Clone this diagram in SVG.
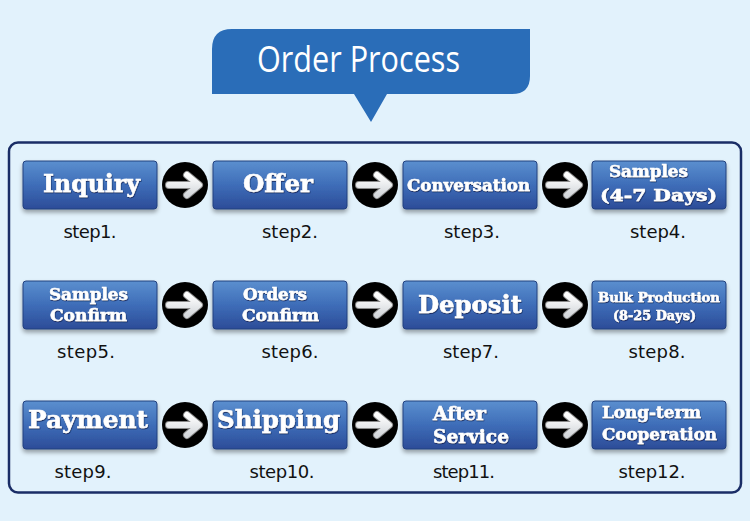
<svg xmlns="http://www.w3.org/2000/svg" width="750" height="521" viewBox="0 0 750 521">
<defs>
<linearGradient id="btn" x1="0" y1="0" x2="0" y2="1">
<stop offset="0" stop-color="#5b8fcf"/>
<stop offset="0.5" stop-color="#3e6db8"/>
<stop offset="1" stop-color="#2c4c98"/>
</linearGradient>
<linearGradient id="arr" x1="0" y1="0" x2="0" y2="1">
<stop offset="0" stop-color="#ffffff"/>
<stop offset="1" stop-color="#d4d8dc"/>
</linearGradient>
<filter id="sh" x="-10%" y="-20%" width="120%" height="150%">
<feDropShadow dx="0" dy="3" stdDeviation="2" flood-color="#000" flood-opacity="0.35"/>
</filter>
<filter id="ts" x="-5%" y="-20%" width="110%" height="150%">
<feDropShadow dx="0.5" dy="1" stdDeviation="0.6" flood-color="#0c1f4a" flood-opacity="0.8"/>
</filter>
<g id="arrow">
<circle cx="0" cy="0" r="23" fill="#000"/>
<path d="M-16,0 H13 M2,-10 L14,0 L2,10" fill="none" stroke="#888" stroke-width="8" stroke-linecap="round" stroke-linejoin="round"/>
<path d="M-16,0 H13 M2,-10 L14,0 L2,10" fill="none" stroke="url(#arr)" stroke-width="6" stroke-linecap="round" stroke-linejoin="round"/>
</g>
</defs>
<style>
.box{fill:url(#btn);stroke:#23407e;stroke-width:1;filter:url(#sh)}
.bt{font-family:"DejaVu Serif",serif;font-weight:bold;fill:#fff;stroke:#fff;stroke-width:0.5;text-anchor:middle;filter:url(#ts)}
.st{font-family:"Comic Sans MS","DejaVu Sans",sans-serif;font-size:18px;fill:#111;text-anchor:middle}
</style>
<rect width="750" height="521" fill="#e2f2fc"/>
<g id="title">
<path d="M232,29 H530 V76 Q530,94 512,94 H387 L371,122 L354,94 H212 V49 Q212,29 232,29 Z" fill="#2a6db8"/>
<text x="358.5" y="72" font-family="Open Sans,sans-serif" font-size="36" fill="#fff" text-anchor="middle" textLength="203" lengthAdjust="spacingAndGlyphs">Order Process</text>
</g>
<rect id="frame" x="9" y="142.5" width="732" height="350" rx="9" fill="none" stroke="#1a2d66" stroke-width="2.5"/>
<g id="connectors">
<use href="#arrow" x="185" y="185"/>
<use href="#arrow" x="375" y="185"/>
<use href="#arrow" x="565" y="185"/>
<use href="#arrow" x="185" y="305"/>
<use href="#arrow" x="375" y="305"/>
<use href="#arrow" x="565" y="305"/>
<use href="#arrow" x="185" y="425"/>
<use href="#arrow" x="375" y="425"/>
<use href="#arrow" x="565" y="425"/>
</g>
<g id="step1"><rect class="box" x="23" y="161" width="134" height="48" rx="3"/><text class="bt" x="91.5" y="192" font-size="24" textLength="97" lengthAdjust="spacingAndGlyphs">Inquiry</text><text class="st" x="90" y="238" textLength="53">step1.</text></g>
<g id="step2"><rect class="box" x="213" y="161" width="134" height="48" rx="3"/><text class="bt" x="278" y="192" font-size="24" textLength="70" lengthAdjust="spacingAndGlyphs">Offer</text><text class="st" x="290" y="238" textLength="56">step2.</text></g>
<g id="step3"><rect class="box" x="403" y="161" width="134" height="48" rx="3"/><text class="bt" x="468.5" y="191" font-size="16" textLength="123" lengthAdjust="spacingAndGlyphs">Conversation</text><text class="st" x="472" y="238" textLength="56">step3.</text></g>
<g id="step4"><rect class="box" x="592" y="161" width="134" height="48" rx="3"/><text class="bt" x="648.5" y="177" font-size="16" textLength="79" lengthAdjust="spacingAndGlyphs">Samples</text><text class="bt" x="658.5" y="201" font-size="16" textLength="117" lengthAdjust="spacingAndGlyphs">(4-7 Days)</text><text class="st" x="658" y="238" textLength="56">step4.</text></g>
<g id="step5"><rect class="box" x="23" y="281" width="134" height="48" rx="3"/><text class="bt" x="88.5" y="300" font-size="16" textLength="79" lengthAdjust="spacingAndGlyphs">Samples</text><text class="bt" x="88.5" y="321" font-size="16" textLength="77" lengthAdjust="spacingAndGlyphs">Confirm</text><text class="st" x="86" y="358" textLength="58">step5.</text></g>
<g id="step6"><rect class="box" x="213" y="281" width="134" height="48" rx="3"/><text class="bt" x="275" y="300" font-size="16" textLength="64" lengthAdjust="spacingAndGlyphs">Orders</text><text class="bt" x="280.5" y="321" font-size="16" textLength="77" lengthAdjust="spacingAndGlyphs">Confirm</text><text class="st" x="290" y="358" textLength="57">step6.</text></g>
<g id="step7"><rect class="box" x="403" y="281" width="134" height="48" rx="3"/><text class="bt" x="470" y="313" font-size="24" textLength="104" lengthAdjust="spacingAndGlyphs">Deposit</text><text class="st" x="471" y="358" textLength="56">step7.</text></g>
<g id="step8"><rect class="box" x="592" y="281" width="134" height="48" rx="3"/><text class="bt" x="659" y="302" font-size="13" textLength="122" lengthAdjust="spacingAndGlyphs">Bulk Production</text><text class="bt" x="654.5" y="320" font-size="13" textLength="83" lengthAdjust="spacingAndGlyphs">(8-25 Days)</text><text class="st" x="657" y="358" textLength="57">step8.</text></g>
<g id="step9"><rect class="box" x="23" y="401" width="134" height="48" rx="3"/><text class="bt" x="88" y="428" font-size="24" textLength="120" lengthAdjust="spacingAndGlyphs">Payment</text><text class="st" x="83" y="478" textLength="57">step9.</text></g>
<g id="step10"><rect class="box" x="213" y="401" width="134" height="48" rx="3"/><text class="bt" x="278.5" y="428" font-size="24" textLength="123" lengthAdjust="spacingAndGlyphs">Shipping</text><text class="st" x="282" y="478" textLength="65">step10.</text></g>
<g id="step11"><rect class="box" x="403" y="401" width="134" height="48" rx="3"/><text class="bt" x="459.5" y="420" font-size="18" textLength="53" lengthAdjust="spacingAndGlyphs">After</text><text class="bt" x="471" y="443" font-size="18" textLength="76" lengthAdjust="spacingAndGlyphs">Service</text><text class="st" x="464" y="478" textLength="62">step11.</text></g>
<g id="step12"><rect class="box" x="592" y="401" width="134" height="48" rx="3"/><text class="bt" x="651.5" y="418" font-size="16" textLength="99" lengthAdjust="spacingAndGlyphs">Long-term</text><text class="bt" x="659.5" y="440" font-size="16" textLength="115" lengthAdjust="spacingAndGlyphs">Cooperation</text><text class="st" x="652" y="478" textLength="67">step12.</text></g>
</svg>
